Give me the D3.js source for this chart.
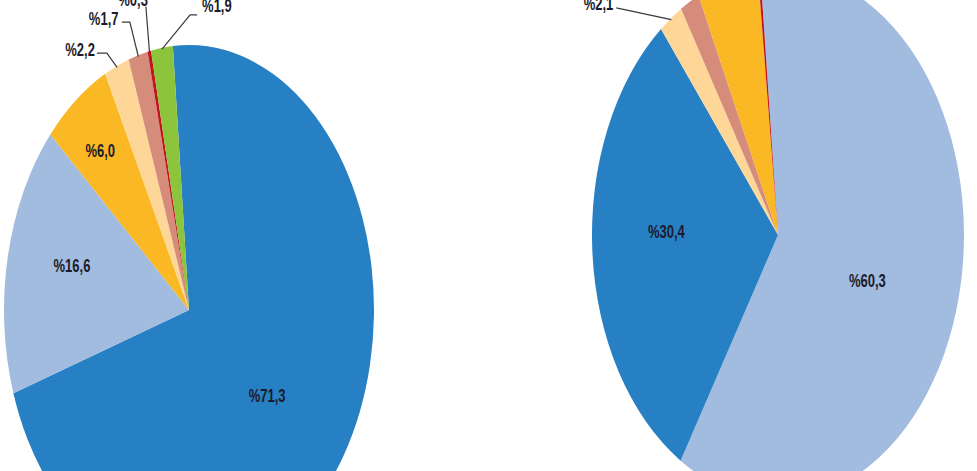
<!DOCTYPE html>
<html><head><meta charset="utf-8">
<script src="https://cdn.jsdelivr.net/npm/d3@7"></script>
<style>html,body{margin:0;padding:0;background:#fff;overflow:hidden}</style>
</head><body>
<svg id="chart" width="977" height="471"></svg>
<script>
// ---- data ----
const leftCategories  = ["c1","c2","c3","c4","c5","c6","c7"];
const leftValues      = [71.3, 16.6, 6.0, 2.2, 1.7, 0.3, 1.9];
const rightCategories = ["c2","c1","c4","c5","c3","c6"];
const rightValues     = [60.3, 30.4, 2.1, 1.7, 5.3, 0.2];

// ---- styles ----
const colorMap = {c1:"#2880c4", c2:"#a2bce0", c3:"#fab825", c4:"#fdd698", c5:"#d68c7b", c6:"#c0161b", c7:"#8cc43c"};

// ---- layout ----
const pies = [
  {cats:leftCategories, vals:leftValues, cx:189, cy:310, rx:185, ry:265, start:-5.0,
   // [angle offset from slice middle (deg), radius factor]
   inside:{c1:[3.9,0.53], c2:[3.4,0.655], c3:[-0.8,0.77]},
   // [elbowAngleDeg, elbowRadiusFactor, tail, textDx, textDy, anchor]
   outside:{c4:[335.4,1.066,-10,-2,-3,"end"], c5:[343.6,1.132,-8,-3.4,-3,"end"],
            c6:[348.5,1.169,0,2,-5,"end"],     c7:[0.3,1.114,7,5,-7,"start"]}},
  {cats:rightCategories, vals:rightValues, cx:778, cy:235, rx:186, ry:265, start:-5.5,
   inside:{c2:[6.6,0.51], c1:[4.8,0.6]},
   outside:{c4:[314.6,1.221,0,-3,-3,"end"]}}
];

const fmt = v => "%" + v.toFixed(1).replace(".", ",");
const rad = d => d * Math.PI / 180;
const polar = (a, r) => [Math.sin(a) * r, -Math.cos(a) * r];

const svg = d3.select("#chart");

pies.forEach(p => {
  const data = p.cats.map((c, i) => ({cat:c, value:p.vals[i]}));
  const pie = d3.pie().sort(null).value(d => d.value)
    .startAngle(rad(p.start)).endAngle(rad(p.start) + 2 * Math.PI);
  const arcs = pie(data);
  const R = p.rx;
  const arc = d3.arc().innerRadius(0).outerRadius(R);
  const g = svg.append("g")
    .attr("transform", `translate(${p.cx},${p.cy}) scale(1,${p.ry / p.rx})`);

  g.selectAll("path.slice").data(arcs).join("path")
    .attr("class", "slice")
    .attr("d", arc)
    .attr("fill", d => colorMap[d.data.cat]);

  const txt = (sel) => sel.attr("font-family", "'Liberation Sans', Arial, sans-serif")
    .attr("font-weight", "bold").attr("font-size", 13).attr("fill", "#1b1b2b");

  // inside labels
  arcs.filter(d => p.inside[d.data.cat] !== undefined).forEach(d => {
    const [off, f] = p.inside[d.data.cat];
    const mid = (d.startAngle + d.endAngle) / 2 + rad(off);
    const [x, y] = polar(mid, R * f);
    g.append("text").call(txt)
      .attr("x", x).attr("y", y)
      .attr("text-anchor", "middle").attr("dominant-baseline", "central")
      .text(fmt(d.data.value));
  });

  // outside labels with leader lines
  arcs.filter(d => p.outside[d.data.cat] !== undefined).forEach(d => {
    const [ea, ef, tail, tdx, tdy, anchor] = p.outside[d.data.cat];
    const mid = (d.startAngle + d.endAngle) / 2;
    const p0 = polar(mid, R * 0.995);
    const p1 = polar(rad(ea), R * ef);
    const p2 = [p1[0] + tail, p1[1]];
    g.append("path")
      .attr("d", d3.line()([p0, p1, p2]))
      .attr("fill", "none").attr("stroke", "#3a3a3a").attr("stroke-width", 1.2)
      .attr("vector-effect", "non-scaling-stroke");
    g.append("text").call(txt)
      .attr("x", p2[0] + tdx).attr("y", p2[1] + tdy)
      .attr("text-anchor", anchor).attr("dominant-baseline", "central")
      .text(fmt(d.data.value));
  });
});
</script>
</body></html>
